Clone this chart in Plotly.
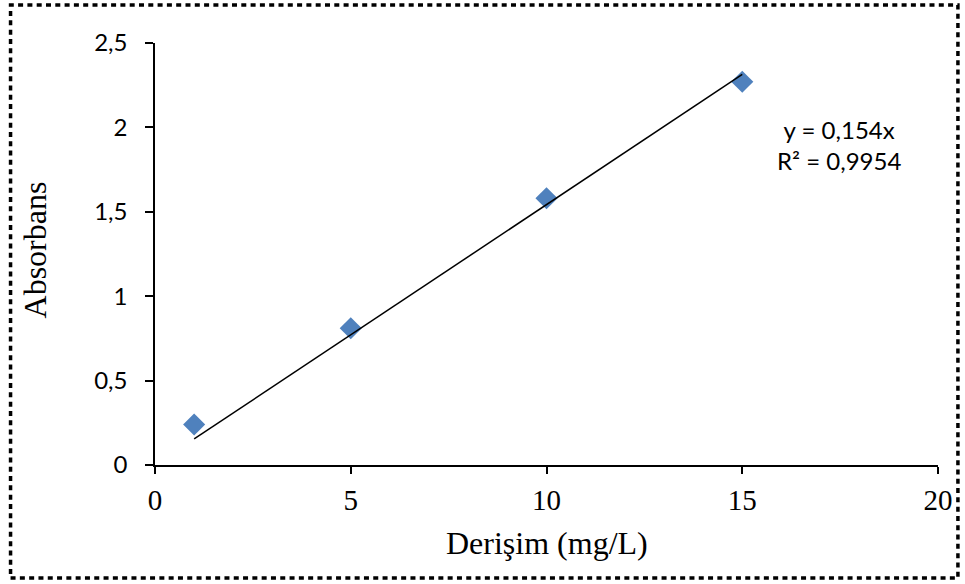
import numpy as np
import plotly.graph_objects as go

# Data
concentration = [1, 5, 10, 15]
absorbance = [0.24, 0.81, 1.58, 2.27]
x_ticks = [0, 5, 10, 15, 20]
y_ticks = [0, 0.5, 1, 1.5, 2, 2.5]
y_tick_labels = ["0", "0,5", "1", "1,5", "2", "2,5"]
eq_text = "y = 0,154x<br>R² = 0,9954"
x_title = "Derişim (mg/L)"
y_title = "Absorbans"

xa = np.array(concentration, dtype=float)
ya = np.array(absorbance, dtype=float)
slope = float((xa * ya).sum() / (xa * xa).sum())
trend_x = [xa.min(), xa.max()]
trend_y = [slope * v for v in trend_x]

W, H = 965, 584
L, R, T, B = 155, 24, 43, 119
pw, ph = W - L - R, H - T - B


def px(x):
    return (x - L) / pw


def py(y):
    return (H - B - y) / ph


fig = go.Figure()
fig.add_trace(go.Scatter(
    x=concentration, y=absorbance, mode="markers",
    marker=dict(symbol="diamond", size=17, color="#4F81BD", line=dict(width=0)),
    showlegend=False, cliponaxis=False,
))
fig.add_trace(go.Scatter(
    x=trend_x, y=trend_y, mode="lines",
    line=dict(color="black", width=1.5),
    showlegend=False, cliponaxis=False,
))

fig.update_layout(
    width=W, height=H,
    margin=dict(l=L, r=R, t=T, b=B),
    paper_bgcolor="white", plot_bgcolor="white",
    xaxis=dict(
        range=[0, 20], tickvals=x_ticks, ticktext=[str(v) for v in x_ticks],
        showgrid=False, zeroline=False, showline=True, linecolor="black", linewidth=1.5,
        ticks="outside", ticklen=7, tickwidth=1.5, tickcolor="black",
        tickfont=dict(family="Liberation Serif", size=29, color="black"),
        ticklabelstandoff=1,
    ),
    yaxis=dict(
        range=[0, 2.5], tickvals=y_ticks, ticktext=y_tick_labels,
        showgrid=False, zeroline=False, showline=True, linecolor="black", linewidth=1.5,
        ticks="outside", ticklen=8, tickwidth=1.5, tickcolor="black",
        tickfont=dict(family="Lato", size=24, color="black"),
        ticklabelstandoff=13,
    ),
    shapes=[dict(
        type="rect", xref="paper", yref="paper",
        x0=px(10), x1=px(961), y0=py(578), y1=py(5),
        line=dict(color="black", width=3.5, dash="5px,4.3px"),
        fillcolor="rgba(0,0,0,0)", layer="above",
    )],
    annotations=[
        dict(text=eq_text, xref="paper", yref="paper", x=px(842), y=py(145),
             showarrow=False, align="center", xanchor="center", yanchor="middle",
             font=dict(family="Lato", size=24, color="black")),
        dict(text=x_title, xref="paper", yref="paper", x=0.5, y=py(543),
             showarrow=False, xanchor="center", yanchor="middle",
             font=dict(family="Liberation Serif", size=32, color="black")),
        dict(text=y_title, xref="paper", yref="paper", x=px(35), y=py(250),
             showarrow=False, xanchor="center", yanchor="middle", textangle=-90,
             font=dict(family="Liberation Serif", size=32, color="black")),
    ],
)

fig.write_html("out.html")
